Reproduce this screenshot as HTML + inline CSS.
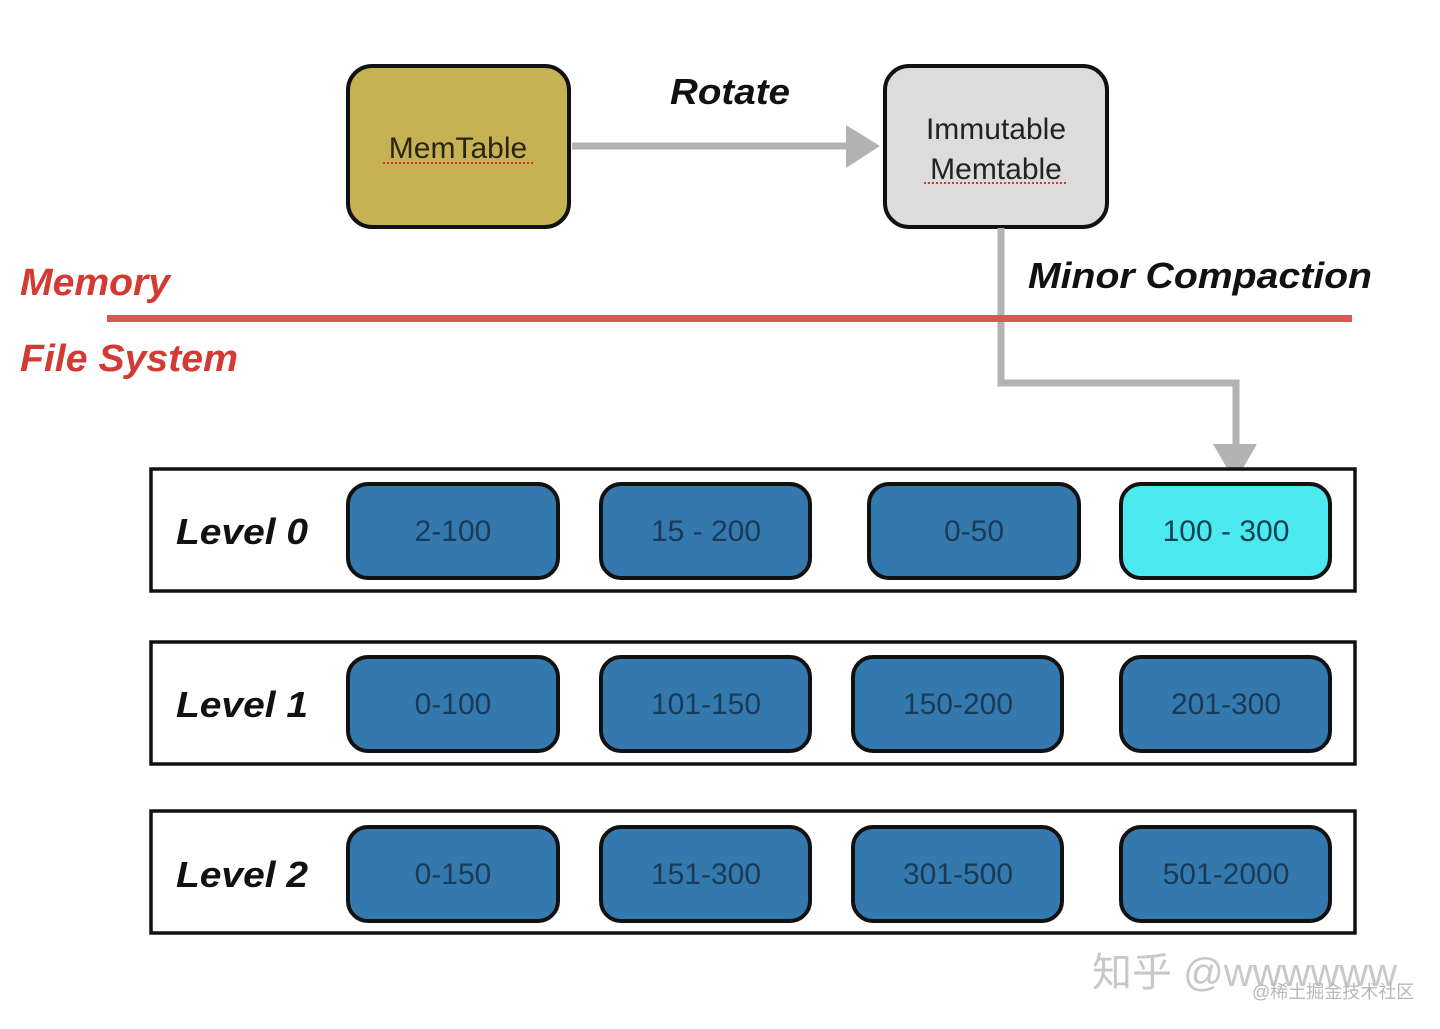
<!DOCTYPE html>
<html><head><meta charset="utf-8"><style>
html,body{margin:0;padding:0;background:#fff;width:1440px;height:1029px;overflow:hidden}
svg{display:block}
</style></head><body>
<svg width="1440" height="1029" viewBox="0 0 1440 1029" xmlns="http://www.w3.org/2000/svg" font-family="Liberation Sans, sans-serif">
<rect x="348" y="66" width="221" height="161" rx="24" fill="#c6b255" stroke="#111" stroke-width="4"/>
<text x="458" y="158" font-size="30" text-anchor="middle" fill="#2a2410">MemTable</text>
<line x1="383" y1="163" x2="533" y2="163" stroke="#d33" stroke-width="2" stroke-dasharray="2 2"/>
<rect x="885" y="66" width="222" height="161" rx="24" fill="#dcdcdd" stroke="#111" stroke-width="4"/>
<text x="996" y="139" font-size="30" text-anchor="middle" fill="#222">Immutable</text>
<text x="996" y="179" font-size="30" text-anchor="middle" fill="#222">Memtable</text>
<line x1="924" y1="183" x2="1068" y2="183" stroke="#d33" stroke-width="2" stroke-dasharray="2 2"/>
<text x="730" y="104" font-size="36" font-weight="bold" font-style="italic" text-anchor="middle" fill="#111" textLength="120" lengthAdjust="spacingAndGlyphs">Rotate</text>
<line x1="572" y1="146" x2="852" y2="146" stroke="#b3b3b3" stroke-width="7"/>
<polygon points="846,125 880,146 846,168" fill="#b3b3b3"/>
<polyline points="1001,228 1001,383 1236,383 1236,448" fill="none" stroke="#b3b3b3" stroke-width="7"/>
<polygon points="1213,444 1257,444 1235,482" fill="#b3b3b3"/>
<text x="1028" y="288" font-size="36" font-weight="bold" font-style="italic" fill="#111" textLength="344" lengthAdjust="spacingAndGlyphs">Minor Compaction</text>
<rect x="107" y="315" width="1245" height="7" fill="#e05454"/>
<text x="20" y="295" font-size="38" font-weight="bold" font-style="italic" fill="#d23a33" textLength="150" lengthAdjust="spacingAndGlyphs">Memory</text>
<text x="20" y="371" font-size="38" font-weight="bold" font-style="italic" fill="#d23a33" textLength="218" lengthAdjust="spacingAndGlyphs">File System</text>
<g stroke="#111" stroke-width="3.5" fill="#fff">
<rect x="151" y="469" width="1204" height="122"/>
<rect x="151" y="642" width="1204" height="122"/>
<rect x="151" y="811" width="1204" height="122"/>
</g>
<g font-size="36" font-weight="bold" font-style="italic" fill="#111">
<text x="176" y="544" textLength="132" lengthAdjust="spacingAndGlyphs">Level 0</text>
<text x="176" y="717" textLength="132" lengthAdjust="spacingAndGlyphs">Level 1</text>
<text x="176" y="887" textLength="132" lengthAdjust="spacingAndGlyphs">Level 2</text>
</g>
<g stroke="#111" stroke-width="4">
<rect x="348" y="484" width="210" height="94" rx="20" fill="#3479ae"/>
<rect x="601" y="484" width="209" height="94" rx="20" fill="#3479ae"/>
<rect x="869" y="484" width="210" height="94" rx="20" fill="#3479ae"/>
<rect x="1121" y="484" width="209" height="94" rx="20" fill="#4ceaf0"/>
<rect x="348" y="657" width="210" height="94" rx="20" fill="#3479ae"/>
<rect x="601" y="657" width="209" height="94" rx="20" fill="#3479ae"/>
<rect x="853" y="657" width="209" height="94" rx="20" fill="#3479ae"/>
<rect x="1121" y="657" width="209" height="94" rx="20" fill="#3479ae"/>
<rect x="348" y="827" width="210" height="94" rx="20" fill="#3479ae"/>
<rect x="601" y="827" width="209" height="94" rx="20" fill="#3479ae"/>
<rect x="853" y="827" width="209" height="94" rx="20" fill="#3479ae"/>
<rect x="1121" y="827" width="209" height="94" rx="20" fill="#3479ae"/>
</g>
<g font-size="30" text-anchor="middle" fill="#1b3a57">
<text x="453" y="541">2-100</text>
<text x="706" y="541">15 - 200</text>
<text x="974" y="541">0-50</text>
<text x="1226" y="541" fill="#0f4250">100 - 300</text>
<text x="453" y="714">0-100</text>
<text x="706" y="714">101-150</text>
<text x="958" y="714">150-200</text>
<text x="1226" y="714">201-300</text>
<text x="453" y="884">0-150</text>
<text x="706" y="884">151-300</text>
<text x="958" y="884">301-500</text>
<text x="1226" y="884">501-2000</text>
</g>
<text x="1092" y="986" font-size="40" fill="#c8c8c8" font-family="Liberation Sans, Noto Sans CJK SC, sans-serif">知乎 @wwwwww</text>
<text x="1252" y="998" font-size="18" fill="#b8b8b8" font-family="Liberation Sans, Noto Sans CJK SC, sans-serif">@稀土掘金技术社区</text>
</svg>
</body></html>
